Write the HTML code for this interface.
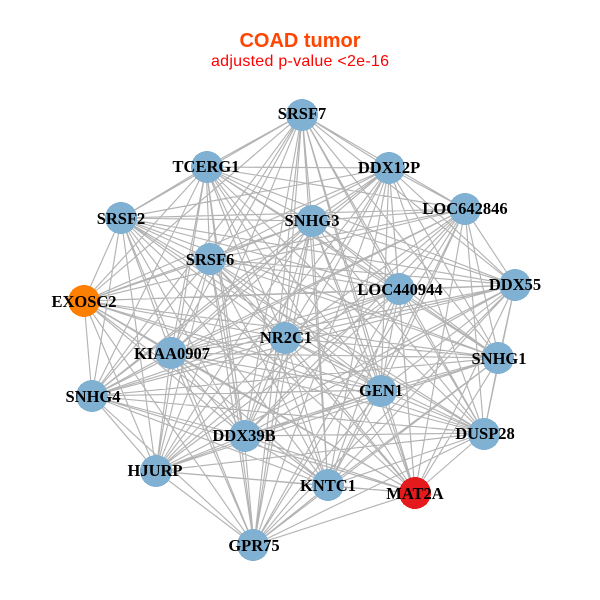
<!DOCTYPE html>
<html><head><meta charset="utf-8"><style>
html,body{margin:0;padding:0;background:#fff}
svg{display:block}
.l{font:bold 16.5px "Liberation Serif",serif;fill:#000;text-anchor:middle}
</style></head><body>
<svg width="600" height="600" viewBox="0 0 600 600" xmlns="http://www.w3.org/2000/svg">
<rect width="600" height="600" fill="#fff"/>
<path fill="none" stroke="#b3b3b3" stroke-width="1.15" d="
M302 114L206 167M302 114L389 168M302 114L465 209M302 114L121 218M302 114L312 221M302 114L210 259M302 114L515 285M302 114L399 290M302 114L84 301M302 114L285 338M302 114L171 353M302 114L499 358M302 114L92 396M302 114L381 390M302 114L484 433M302 114L244 436M302 114L156 471M302 114L328 486M302 114L415 493M302 114L254 545
M206 167L389 168M206 167L465 209M206 167L121 218M206 167L312 221M206 167L210 259M206 167L515 285M206 167L399 290M206 167L84 301M206 167L285 338M206 167L171 353M206 167L499 358M206 167L92 396M206 167L381 390M206 167L484 433M206 167L244 436M206 167L156 471M206 167L328 486M206 167L415 493M206 167L254 545
M389 168L465 209M389 168L121 218M389 168L312 221M389 168L210 259M389 168L515 285M389 168L399 290M389 168L84 301M389 168L285 338M389 168L171 353M389 168L499 358M389 168L92 396M389 168L381 390M389 168L484 433M389 168L244 436M389 168L156 471M389 168L328 486M389 168L415 493M389 168L254 545
M465 209L121 218M465 209L312 221M465 209L210 259M465 209L515 285M465 209L399 290M465 209L84 301M465 209L285 338M465 209L171 353M465 209L499 358M465 209L92 396M465 209L381 390M465 209L484 433M465 209L244 436M465 209L156 471M465 209L328 486M465 209L415 493M465 209L254 545
M121 218L312 221M121 218L210 259M121 218L515 285M121 218L399 290M121 218L84 301M121 218L285 338M121 218L171 353M121 218L499 358M121 218L92 396M121 218L381 390M121 218L484 433M121 218L244 436M121 218L156 471M121 218L328 486M121 218L415 493M121 218L254 545
M312 221L210 259M312 221L515 285M312 221L399 290M312 221L84 301M312 221L285 338M312 221L171 353M312 221L499 358M312 221L92 396M312 221L381 390M312 221L484 433M312 221L244 436M312 221L156 471M312 221L328 486M312 221L415 493M312 221L254 545
M210 259L515 285M210 259L399 290M210 259L84 301M210 259L285 338M210 259L171 353M210 259L499 358M210 259L92 396M210 259L381 390M210 259L484 433M210 259L244 436M210 259L156 471M210 259L328 486M210 259L415 493M210 259L254 545
M515 285L399 290M515 285L84 301M515 285L285 338M515 285L171 353M515 285L499 358M515 285L92 396M515 285L381 390M515 285L484 433M515 285L244 436M515 285L156 471M515 285L328 486M515 285L415 493M515 285L254 545
M399 290L84 301M399 290L285 338M399 290L171 353M399 290L499 358M399 290L92 396M399 290L381 390M399 290L484 433M399 290L244 436M399 290L156 471M399 290L328 486M399 290L415 493M399 290L254 545
M84 301L285 338M84 301L171 353M84 301L499 358M84 301L92 396M84 301L381 390M84 301L484 433M84 301L244 436M84 301L156 471M84 301L328 486M84 301L415 493M84 301L254 545
M285 338L171 353M285 338L499 358M285 338L92 396M285 338L381 390M285 338L484 433M285 338L244 436M285 338L156 471M285 338L328 486M285 338L415 493M285 338L254 545
M171 353L499 358M171 353L92 396M171 353L381 390M171 353L484 433M171 353L244 436M171 353L156 471M171 353L328 486M171 353L415 493M171 353L254 545
M499 358L92 396M499 358L381 390M499 358L484 433M499 358L244 436M499 358L156 471M499 358L328 486M499 358L415 493M499 358L254 545
M92 396L381 390M92 396L484 433M92 396L244 436M92 396L156 471M92 396L328 486M92 396L415 493M92 396L254 545
M381 390L484 433M381 390L244 436M381 390L156 471M381 390L328 486M381 390L415 493M381 390L254 545
M484 433L244 436M484 433L156 471M484 433L328 486M484 433L415 493M484 433L254 545
M244 436L156 471M244 436L328 486M244 436L415 493M244 436L254 545
M156 471L328 486M156 471L415 493M156 471L254 545
M328 486L415 493M328 486L254 545
M415 493L254 545"/>
<g fill="#80b1d3" shape-rendering="crispEdges">
<circle cx="302" cy="115" r="16"/><circle cx="207" cy="167" r="16"/><circle cx="389" cy="168" r="16"/><circle cx="465" cy="209" r="16"/><circle cx="121" cy="218" r="16"/><circle cx="312" cy="221" r="16"/><circle cx="210" cy="259" r="16"/><circle cx="515" cy="285" r="16"/><circle cx="399" cy="289" r="16"/><circle cx="285" cy="338" r="16"/><circle cx="171" cy="353" r="16"/><circle cx="498" cy="358" r="16"/><circle cx="92" cy="396" r="16"/><circle cx="381" cy="391" r="16"/><circle cx="484" cy="434" r="16"/><circle cx="245" cy="436" r="16"/><circle cx="156" cy="471" r="16"/><circle cx="328" cy="485" r="16"/><circle cx="253" cy="545" r="16"/>
</g>
<circle cx="84" cy="301" r="16" fill="#ff7f00" shape-rendering="crispEdges"/>
<circle cx="415" cy="493" r="16" fill="#e41a1c" shape-rendering="crispEdges"/>
<g>
<text class="l" x="302" y="119">SRSF7</text>
<text class="l" x="206" y="172">TCERG1</text>
<text class="l" x="389" y="173">DDX12P</text>
<text class="l" x="465" y="214">LOC642846</text>
<text class="l" x="121" y="224">SRSF2</text>
<text class="l" x="312" y="226">SNHG3</text>
<text class="l" x="210" y="265">SRSF6</text>
<text class="l" x="515" y="290">DDX55</text>
<text class="l" x="400" y="295">LOC440944</text>
<text class="l" x="84" y="307">EXOSC2</text>
<text class="l" x="286" y="343">NR2C1</text>
<text class="l" x="172" y="359">KIAA0907</text>
<text class="l" x="499" y="364">SNHG1</text>
<text class="l" x="93" y="402">SNHG4</text>
<text class="l" x="381" y="396">GEN1</text>
<text class="l" x="485" y="439">DUSP28</text>
<text class="l" x="244" y="441">DDX39B</text>
<text class="l" x="155" y="476">HJURP</text>
<text class="l" x="328" y="491">KNTC1</text>
<text class="l" x="415" y="499">MAT2A</text>
<text class="l" x="254" y="551">GPR75</text>
</g>
<text x="300" y="47" text-anchor="middle" font-family="'Liberation Sans',sans-serif" font-weight="bold" font-size="20" fill="#ff4500">COAD tumor</text>
<text x="300" y="66" text-anchor="middle" font-family="'Liberation Sans',sans-serif" font-size="16" textLength="178" fill="#ff0000">adjusted p-value &lt;2e-16</text>
</svg>
</body></html>
